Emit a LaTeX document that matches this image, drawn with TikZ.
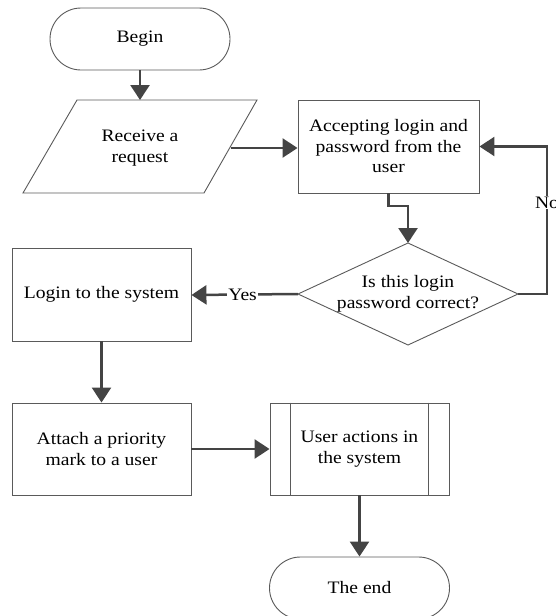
\documentclass[tikz,border=0pt]{standalone}
\usepackage{fontspec}
\setmainfont{Liberation Serif}[FakeStretch=1.12]
\usetikzlibrary{arrows.meta,calc}
\definecolor{lineC}{HTML}{444444}
\definecolor{boxC}{HTML}{5A5A5A}
\tikzset{
  txt/.style={font=\fontsize{17.5}{20.5}\selectfont, align=center, inner sep=0pt},
  boxed/.style={txt, draw=boxC, line width=0.9pt, rectangle, fill=white},
  term/.style={boxed, rounded corners=31pt},
  conn/.style={draw=lineC, line width=2.5pt, -{Triangle[length=15pt,width=19pt]}},
  lbl/.style={txt, fill=white, inner sep=1pt},
}
\begin{document}
\begin{tikzpicture}[x=1pt,y=-1pt]
\useasboundingbox (0,0) rectangle (555,616);
% Begin
\node[term, minimum width=180pt, minimum height=62pt] (begin) at (140,39) {Begin};
% Receive a request (parallelogram)
\draw[boxC, line width=0.9pt, fill=white] (77,100) -- (257,100) -- (204,193) -- (23,193) -- cycle;
\node[txt] (req) at (140,148) {Receive a\\request};
\coordinate (reqR) at (230.5,148);
% Accepting box
\node[boxed, minimum width=181pt, minimum height=93pt] (acc) at (388.5,146.5) {Accepting login and\\password from the\\user};
% Diamond
\draw[boxC, line width=0.9pt, fill=white] (408,243) -- (518,294) -- (408,345) -- (298,294) -- cycle;
\node[txt] (dec) at (408,294) {Is this login\\password correct?};
\coordinate (dtop) at (408,243);
\coordinate (dleft) at (298,294);
\coordinate (dright) at (518,294);
% Login
\node[boxed, minimum width=179pt, minimum height=93pt] (login) at (101.5,294.5) {Login to the system};
% Attach
\node[boxed, minimum width=179pt, minimum height=92pt] (attach) at (101.5,449) {Attach a priority\\mark to a user};
% User actions (predefined process)
\node[boxed, minimum width=179pt, minimum height=92pt] (act) at (359.5,449) {User actions in\\the system};
\draw[boxC, line width=0.9pt] ([xshift=21pt]act.north west) -- ([xshift=21pt]act.south west);
\draw[boxC, line width=0.9pt] ([xshift=-21pt]act.north east) -- ([xshift=-21pt]act.south east);
% The end
\node[term, minimum width=180pt, minimum height=62pt] (end) at (359.5,588) {The end};
% Connectors
\draw[conn] (begin.south) -- (begin.south |- 0,100);
\draw[conn] (reqR) -- (acc.west |- reqR);
\draw[conn] (acc.south) |- (408,206) -- (dtop);
\draw[conn] (dright) -- (547,294) |- (acc.east) node[lbl, pos=0.31] (no) {No};
\draw[conn] (dleft) -- (login.east |- 0,295) node[lbl, pos=0.52] (yes) {Yes};
\draw[conn] (login.south) -- (attach.north);
\draw[conn] (attach.east) -- (act.west);
\draw[conn] (act.south) -- (end.north);
\end{tikzpicture}
\end{document}
